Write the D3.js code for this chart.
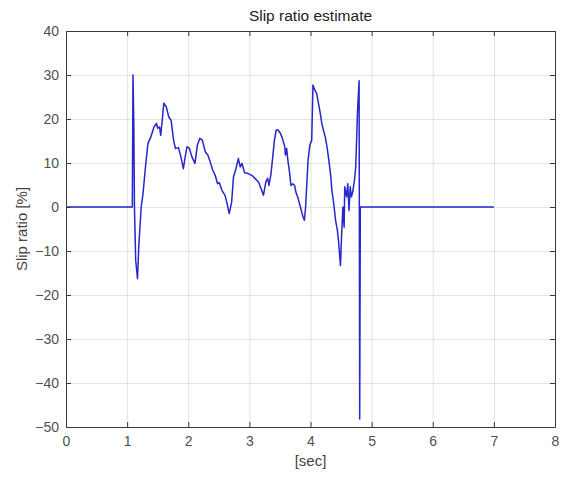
<!DOCTYPE html>
<html>
<head>
<meta charset="utf-8">
<script src="https://cdn.jsdelivr.net/npm/d3@7"></script>
<style>
  body { margin: 0; background: #fff; }
  svg { font-family: "Liberation Sans", Arial, sans-serif; }
</style>
</head>
<body>
<svg></svg>
<script>
const width = 567;
const height = 480;
const margin = { top: 31, right: 12, bottom: 53, left: 66 };

// time [sec] and slip ratio [%]
const timeSec = [
  0, 1.085, 1.096, 1.11, 1.12, 1.14, 1.17, 1.19, 1.23, 1.26, 1.30, 1.34, 1.39, 1.44,
  1.48, 1.50, 1.53, 1.55, 1.58, 1.60, 1.64, 1.68, 1.72, 1.76, 1.79, 1.84, 1.88, 1.92,
  1.95, 1.98, 2.02, 2.06, 2.11, 2.15, 2.19, 2.23, 2.28, 2.32, 2.36, 2.40, 2.44, 2.48,
  2.51, 2.55, 2.60, 2.63, 2.67, 2.71, 2.74, 2.78, 2.82, 2.85, 2.88, 2.92, 2.98, 3.04,
  3.09, 3.15, 3.19, 3.23, 3.27, 3.30, 3.32, 3.35, 3.38, 3.41, 3.44, 3.47, 3.51, 3.54,
  3.58, 3.59, 3.61, 3.63, 3.66, 3.68, 3.71, 3.74, 3.76, 3.79, 3.82, 3.85, 3.87, 3.90,
  3.92, 3.94, 3.96, 3.99, 4.02, 4.04, 4.07, 4.10, 4.13, 4.16, 4.18, 4.21, 4.24, 4.27,
  4.30, 4.33, 4.35, 4.38, 4.41, 4.44, 4.46, 4.49, 4.51, 4.53, 4.55, 4.56, 4.59, 4.61,
  4.63, 4.65, 4.67, 4.69, 4.72, 4.74, 4.77, 4.795, 4.805, 4.815, 4.83, 7.0
];
const slipRatio = [
  0, 0, 30.0, 18.2, 0, -12.1, -16.3, -9.1, 0, 3.0, 9.1, 14.4, 16.0, 18.2,
  19.0, 17.9, 18.2, 16.3, 20.5, 23.6, 22.8, 20.5, 19.7, 15.2, 13.3, 13.5, 11.4, 8.7,
  11.4, 13.7, 13.3, 11.4, 9.9, 14.1, 15.6, 15.2, 12.5, 11.8, 10.2, 8.4, 7.2, 5.3,
  5.5, 3.8, 2.7, 1.1, -1.5, 1.1, 6.8, 8.7, 11.0, 9.1, 9.9, 7.8, 7.6, 7.2,
  6.5, 5.7, 4.2, 2.7, 5.7, 6.5, 4.9, 7.2, 11.0, 15.2, 17.5, 17.5, 16.7, 15.6,
  13.7, 11.8, 13.3, 10.6, 7.6, 4.9, 5.3, 4.9, 3.4, 2.3, 0.8, -0.8, -1.9, -3.0,
  0, 5.3, 10.6, 14.1, 15.2, 27.7, 26.6, 25.8, 23.6, 21.3, 19.4, 17.5, 16.0, 13.7,
  10.6, 7.2, 3.8, 0.8, -3.0, -5.3, -8.0, -13.3, -6.1, 0, -4.6, 4.6, 2.3, 5.3,
  -0.8, 4.6, 2.3, 3.4, 6.1, 9.1, 22.0, 28.7, -48.2, 0, 0, 0
];

const xTicks = [0, 1, 2, 3, 4, 5, 6, 7, 8];
const yTicks = [-50, -40, -30, -20, -10, 0, 10, 20, 30, 40];

const data = timeSec.map((t, i) => [t, slipRatio[i]]);

const svg = d3.select("svg").attr("width", width).attr("height", height);

const x = d3.scaleLinear().domain([0, 8]).range([margin.left, width - margin.right]);
const y = d3.scaleLinear().domain([-50, 40]).range([height - margin.bottom, margin.top]);

const plotW = width - margin.left - margin.right;
const plotH = height - margin.top - margin.bottom;

// grid
svg.append("g")
  .attr("transform", "translate(0," + (height - margin.bottom) + ")")
  .call(d3.axisBottom(x).tickValues(xTicks).tickSize(-plotH).tickFormat(""))
  .call(g => g.select(".domain").remove())
  .call(g => g.selectAll("line").attr("stroke", "#e2e2e2"));

svg.append("g")
  .attr("transform", "translate(" + margin.left + ",0)")
  .call(d3.axisLeft(y).tickValues(yTicks).tickSize(-plotW).tickFormat(""))
  .call(g => g.select(".domain").remove())
  .call(g => g.selectAll("line").attr("stroke", "#e2e2e2"));

// the signal
const line = d3.line().x(d => x(d[0])).y(d => y(d[1]));
svg.append("path")
  .datum(data)
  .attr("fill", "none")
  .attr("stroke", "#2626cc")
  .attr("stroke-width", 1.5)
  .attr("stroke-linejoin", "round")
  .attr("d", line);

// axes, ticks point inward like matlab
const styleAxis = (g) => {
  g.select(".domain").attr("stroke", "#3a3a3a");
  g.selectAll(".tick line").attr("stroke", "#3a3a3a");
  g.selectAll("text").attr("fill", "#505050").attr("font-size", 14);
};

svg.append("g")
  .attr("transform", "translate(0," + (height - margin.bottom) + ")")
  .call(d3.axisBottom(x).tickValues(xTicks).tickSizeInner(-5).tickSizeOuter(0).tickPadding(9))
  .call(styleAxis);

svg.append("g")
  .attr("transform", "translate(0," + margin.top + ")")
  .call(d3.axisTop(x).tickValues(xTicks).tickSizeInner(-5).tickSizeOuter(0).tickFormat(""))
  .call(styleAxis);

svg.append("g")
  .attr("transform", "translate(" + margin.left + ",0)")
  .call(d3.axisLeft(y).tickValues(yTicks).tickSizeInner(-5).tickSizeOuter(0).tickPadding(7))
  .call(styleAxis);

svg.append("g")
  .attr("transform", "translate(" + (width - margin.right) + ",0)")
  .call(d3.axisRight(y).tickValues(yTicks).tickSizeInner(-5).tickSizeOuter(0).tickFormat(""))
  .call(styleAxis);

// labels
svg.append("text")
  .attr("x", margin.left + plotW / 2)
  .attr("y", 21)
  .attr("text-anchor", "middle")
  .attr("font-size", 15.5)
  .attr("fill", "#222")
  .text("Slip ratio estimate");

svg.append("text")
  .attr("x", margin.left + plotW / 2)
  .attr("y", 466)
  .attr("text-anchor", "middle")
  .attr("font-size", 15)
  .attr("fill", "#444")
  .text("[sec]");

svg.append("text")
  .attr("transform", "translate(27," + (margin.top + plotH / 2) + ") rotate(-90)")
  .attr("text-anchor", "middle")
  .attr("font-size", 15)
  .attr("fill", "#444")
  .text("Slip ratio [%]");
</script>
</body>
</html>
